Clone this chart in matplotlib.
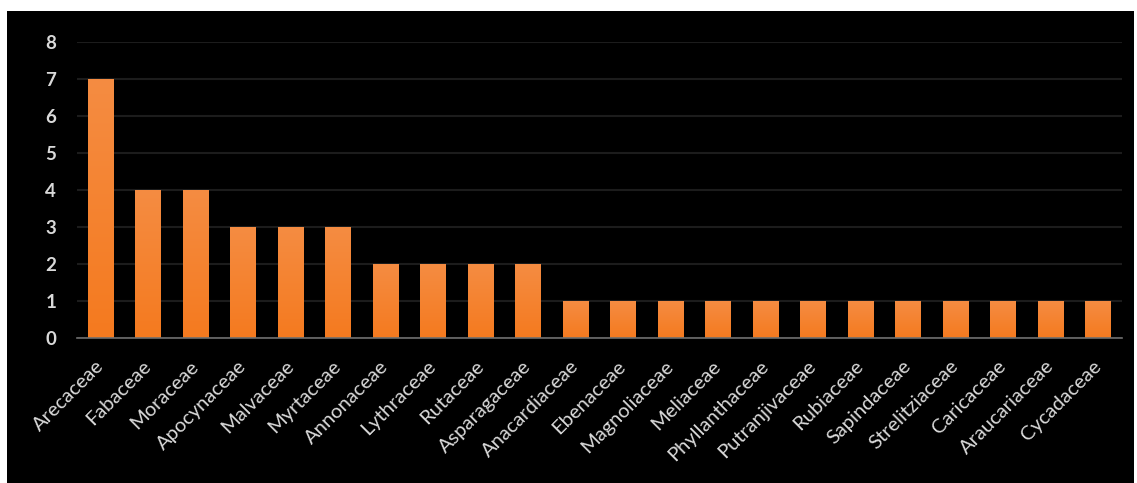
import matplotlib
matplotlib.use("Agg")
import matplotlib.pyplot as plt
from matplotlib.patches import Rectangle
from matplotlib.colors import LinearSegmentedColormap
import numpy as np

families = ["Arecaceae", "Fabaceae", "Moraceae", "Apocynaceae", "Malvaceae", "Myrtaceae",
            "Annonaceae", "Lythraceae", "Rutaceae", "Asparagaceae", "Anacardiaceae", "Ebenaceae",
            "Magnoliaceae", "Meliaceae", "Phyllanthaceae", "Putranjivaceae", "Rubiaceae",
            "Sapindaceae", "Strelitziaceae", "Caricaceae", "Araucariaceae", "Cycadaceae"]
counts = [7, 4, 4, 3, 3, 3, 2, 2, 2, 2, 1, 1, 1, 1, 1, 1, 1, 1, 1, 1, 1, 1]
yticks = [0, 1, 2, 3, 4, 5, 6, 7, 8]

plt.rcParams['font.family'] = ['Lato', 'DejaVu Sans']

fig = plt.figure(figsize=(11.37, 4.83), dpi=100, facecolor="white")
fig.patches.append(Rectangle((7/1137, 0), (1134-7)/1137, (483-11)/483,
                             transform=fig.transFigure, facecolor="black",
                             edgecolor="none", zorder=-10))
ax = fig.add_axes([77/1137, 145/483, (1122-77)/1137, (441-145)/483])
ax.set_facecolor("black")

x = np.arange(len(families))
bars = ax.bar(x, counts, width=0.54, color="#F5822C", zorder=3)

grad_cmap = LinearSegmentedColormap.from_list("og", ["#F47A1F", "#F58C42"])
grad = np.linspace(0, 1, 256).reshape(-1, 1)
for b in bars:
    x0, y0 = b.get_x(), b.get_y()
    w, h = b.get_width(), b.get_height()
    im = ax.imshow(grad, cmap=grad_cmap, origin="lower", aspect="auto",
                   extent=(x0, x0 + w, y0, y0 + h), zorder=3.5)
    im.set_clip_path(b)

ax.set_ylim(0, 8)
ax.set_xlim(-0.5, len(families) - 0.5)
ax.set_yticks(yticks)
ax.set_yticklabels([str(v) for v in yticks], color="#D9D9D9", fontsize=13.5, fontweight="bold")
ax.yaxis.grid(True, color="#1C1C1C", linewidth=1.5, zorder=0)
ax.set_axisbelow(True)
ax.tick_params(axis="y", length=0, pad=15)
ax.tick_params(axis="x", length=0, pad=14)
ax.set_xticks(x - 0.13)
ax.set_xticklabels(families, rotation=45, ha="right", rotation_mode="anchor",
                   color="#D9D9D9", fontsize=14.5)

for s in ["top", "right", "left"]:
    ax.spines[s].set_visible(False)
ax.spines["bottom"].set_color("#6E6E6E")
ax.spines["bottom"].set_linewidth(1.2)
ax.spines["bottom"].set_zorder(4)

fig.savefig("out.png", dpi=100, facecolor="white")
